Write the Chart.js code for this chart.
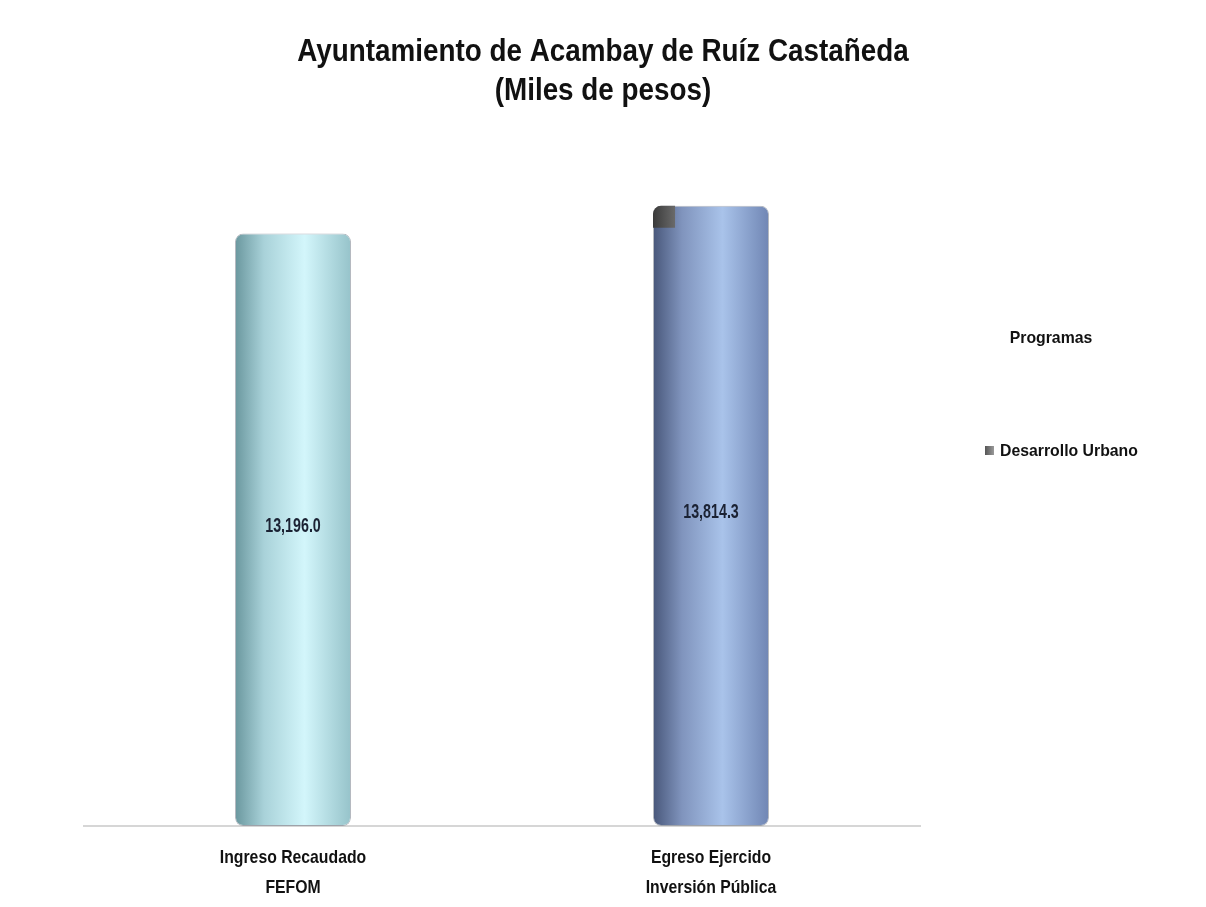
<!DOCTYPE html>
<html>
<head>
<meta charset="utf-8">
<script src="https://cdn.jsdelivr.net/npm/chart.js@4.4.1/dist/chart.umd.min.js"></script>
<style>
  html, body { margin: 0; padding: 0; background: #fff; }
  #wrap { width: 1206px; height: 907px; position: relative; }
</style>
</head>
<body>
<div id="wrap"><canvas id="chart"></canvas></div>
<script>
// data
const categories = [['Ingreso Recaudado', 'FEFOM'], ['Egreso Ejercido', 'Inversión Pública']];
const values = [13196.0, 13814.3];
const titleLines = ['Ayuntamiento de Acambay de Ruíz Castañeda', '(Miles de pesos)'];
const legendTitle = 'Programas';
const seriesName = 'Desarrollo Urbano';

const FONT = "'Liberation Sans', Arial, sans-serif";
const BAR_PCT = 0.2775;

// cylinder look: horizontal gradient per bar
const stops = [
  ['#6a979e', '#a9d2d9', '#d3f6fb', '#96c3ca'],
  ['#48577a', '#8094bd', '#a9c3ea', '#7086b4']
];

function barFill(ctx) {
  const chart = ctx.chart;
  const area = chart.chartArea;
  const i = ctx.dataIndex;
  if (!area) return stops[i][2];
  const xs = chart.scales.x;
  const cx = xs.getPixelForValue(i);
  const half = (area.width / categories.length) * BAR_PCT / 2;
  const g = chart.ctx.createLinearGradient(cx - half, 0, cx + half, 0);
  g.addColorStop(0, stops[i][0]);
  g.addColorStop(0.25, stops[i][1]);
  g.addColorStop(0.6, stops[i][2]);
  g.addColorStop(1, stops[i][3]);
  return g;
}

// narrow text: the original uses a condensed face, squeeze horizontally
function narrowText(c, text, x, y, size, sx, align) {
  c.save();
  c.font = 'bold ' + size + 'px ' + FONT;
  c.textBaseline = 'middle';
  c.textAlign = align || 'center';
  c.translate(x, y);
  c.scale(sx, 1);
  c.fillText(text, 0, 0);
  c.restore();
}

const extras = {
  id: 'extras',
  afterDatasetsDraw(chart) {
    const c = chart.ctx;
    const meta = chart.getDatasetMeta(0);
    // dark patch at top-left of second bar (series colour)
    const el = meta.data[1];
    if (el) {
      const x0 = el.x - el.width / 2;
      const g = c.createLinearGradient(x0, 0, x0 + el.width * 0.19, 0);
      g.addColorStop(0, '#3a3a3a');
      g.addColorStop(1, '#6a6a6a');
      c.save();
      c.fillStyle = g;
      c.beginPath();
      c.roundRect(x0, el.y, el.width * 0.19, 22, [8, 0, 0, 0]);
      c.fill();
      c.restore();
    }
    // value labels
    c.fillStyle = '#1b2233';
    meta.data.forEach((b, i) => {
      const p = b.getCenterPoint();
      const txt = values[i].toLocaleString('en-US', { minimumFractionDigits: 1, maximumFractionDigits: 1 });
      narrowText(c, txt, p.x, p.y - 4, 21, 0.68);
    });
  },
  afterDraw(chart) {
    const c = chart.ctx;
    const xs = chart.scales.x;
    const bottom = chart.chartArea.bottom;
    c.fillStyle = '#111';
    // title, centred on the page
    narrowText(c, titleLines[0], 603, 52, 32, 0.87);
    narrowText(c, titleLines[1], 603, 91, 32, 0.87);
    // category labels
    categories.forEach((lines, i) => {
      const x = xs.getPixelForValue(i);
      lines.forEach((t, j) => narrowText(c, t, x, bottom + 32 + j * 30, 19, 0.83));
    });
    // legend
    narrowText(c, legendTitle, 1051, 338, 17, 0.93);
    const sg = c.createLinearGradient(985, 0, 994, 0);
    sg.addColorStop(0, '#555');
    sg.addColorStop(1, '#9a9a9a');
    c.fillStyle = sg;
    c.fillRect(985, 446, 9, 9);
    c.fillStyle = '#111';
    narrowText(c, seriesName, 1000, 451, 17, 0.93, 'left');
  }
};

new Chart(document.getElementById('chart'), {
  type: 'bar',
  data: {
    labels: categories,
    datasets: [{
      label: seriesName,
      data: values,
      backgroundColor: barFill,
      borderColor: 'rgba(90,100,115,0.45)',
      borderWidth: 1,
      borderSkipped: false,
      borderRadius: 8,
      categoryPercentage: 1,
      barPercentage: BAR_PCT
    }]
  },
  options: {
    responsive: true,
    maintainAspectRatio: false,
    animation: false,
    layout: { padding: { left: 84, right: 286, top: 175, bottom: 81 } },
    plugins: {
      legend: { display: false },
      tooltip: { enabled: false },
      title: { display: false }
    },
    scales: {
      x: {
        grid: { display: false, drawTicks: false },
        border: { display: true, color: '#d6d6d6', width: 2 },
        ticks: { display: false }
      },
      y: {
        display: false,
        min: 0,
        max: 14500
      }
    }
  },
  plugins: [extras]
});
</script>
</body>
</html>
